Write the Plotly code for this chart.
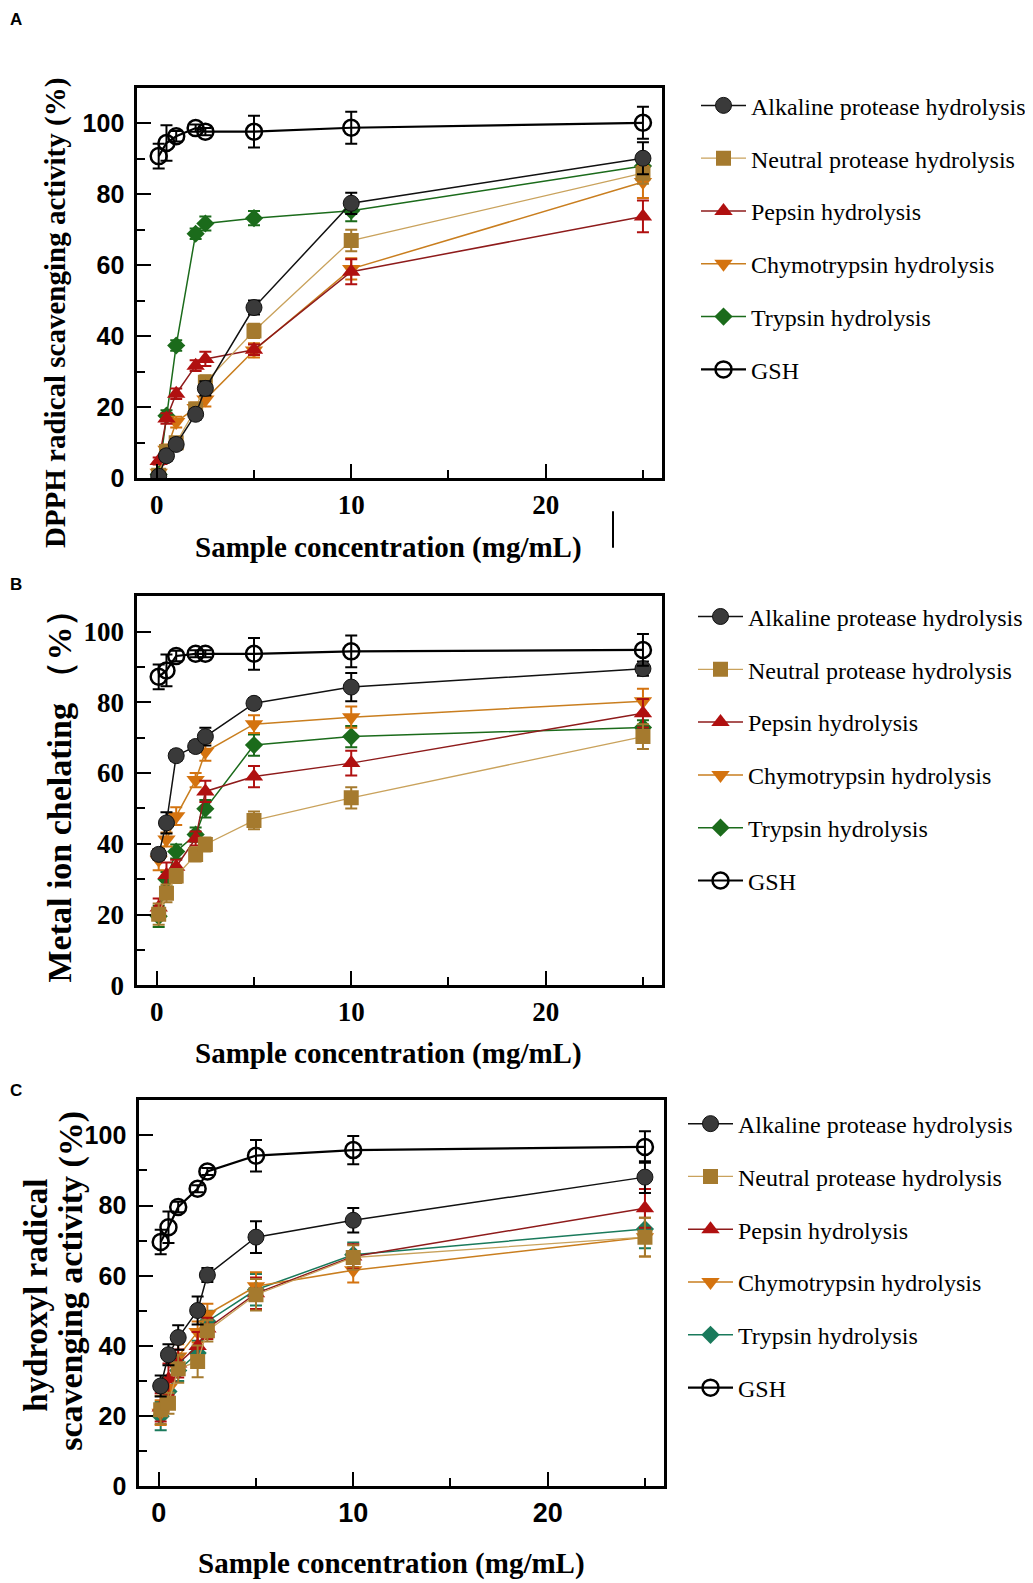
import plotly.graph_objects as go

# ---------------- data ----------------
conc = [0.1, 0.5, 1, 2, 2.5, 5, 10, 25]

series_names = ["Alkaline protease hydrolysis", "Neutral protease hydrolysis", "Pepsin hydrolysis",
                "Chymotrypsin hydrolysis", "Trypsin hydrolysis", "GSH"]

# Panel A: DPPH radical scavenging activity (%)
dpph_alk = [0.5, 6.3, 9.5, 18.0, 25.3, 48.1, 77.5, 90.2]
dpph_neu = [0.8, 7.5, 10.0, 19.5, 27.0, 41.5, 67.0, 86.0]
dpph_pep = [4.8, 16.8, 23.8, 31.7, 33.6, 36.2, 58.2, 73.8]
dpph_chy = [1.5, 8.0, 15.8, 19.8, 22.2, 36.0, 59.0, 83.5]
dpph_try = [1.0, 17.6, 37.4, 68.9, 71.8, 73.3, 75.4, 88.0]
dpph_gsh = [90.8, 94.5, 96.4, 98.7, 97.7, 97.7, 98.8, 100.2]
dpph_err_alk = [1, 1.5, 1.5, 1.5, 2, 2, 3, 4.5]
dpph_err_neu = [1, 1.5, 1.5, 1.5, 2, 2, 3, 3]
dpph_err_pep = [1, 1.5, 1.5, 1.5, 2, 1.5, 3.5, 4.5]
dpph_err_chy = [1, 1.5, 1.5, 1.5, 2, 2, 3, 4.5]
dpph_err_try = [1, 1.5, 1.5, 1.5, 2, 2, 3, 3]
dpph_err_gsh = [3.5, 5, 1.5, 1, 1, 4.5, 4.5, 4.5]

# Panel B: Metal ion chelating (%)
met_alk = [37.0, 45.9, 64.9, 67.5, 70.3, 79.7, 84.3, 89.5]
met_neu = [20.1, 26.0, 30.9, 37.0, 39.8, 46.6, 53.0, 70.3]
met_pep = [22.0, 31.2, 33.5, 41.5, 54.8, 59.0, 62.8, 76.9]
met_chy = [35.5, 41.2, 47.8, 58.0, 66.0, 73.8, 75.8, 80.3]
met_try = [19.5, 30.0, 37.8, 42.6, 49.9, 67.9, 70.3, 72.9]
met_gsh = [87.2, 89.0, 93.1, 93.7, 93.7, 93.7, 94.4, 94.8]
met_err_alk = [1.5, 3, 1.5, 1.5, 2.5, 1.5, 4, 2]
met_err_neu = [3, 2.5, 2, 2, 2, 2.5, 3, 3.5]
met_err_pep = [2.5, 3.5, 2, 2, 3, 3, 3.5, 4]
met_err_chy = [3, 2, 2.5, 2, 2.5, 2.5, 3, 3.5]
met_err_try = [3, 2, 2, 2, 2.5, 3, 3, 2]
met_err_gsh = [3.5, 4.5, 1.5, 1, 1, 4.5, 4.5, 4.5]

# Panel C: hydroxyl radical scavenging activity (%)
hyd_alk = [28.6, 37.5, 42.4, 50.1, 60.2, 71.0, 75.8, 88.1]
hyd_neu = [21.8, 23.7, 33.5, 35.6, 44.3, 54.6, 65.2, 71.0]
hyd_pep = [22.5, 30.5, 35.0, 40.0, 45.0, 55.0, 65.5, 79.2]
hyd_chy = [21.0, 28.0, 37.0, 44.0, 49.0, 57.0, 61.6, 71.0]
hyd_try = [20.0, 27.0, 33.0, 38.0, 47.0, 56.0, 66.0, 73.3]
hyd_gsh = [69.6, 73.8, 79.6, 84.8, 89.7, 94.2, 95.8, 96.7]
hyd_err_alk = [3, 3, 3.5, 4, 2, 4.5, 3.5, 4.5]
hyd_err_neu = [4, 3, 4, 4.5, 3, 4.5, 3.5, 5.5]
hyd_err_pep = [4, 4.5, 4, 4, 3, 4.5, 3.5, 5.5]
hyd_err_chy = [3.5, 3, 3.5, 3, 3, 4, 3.5, 5.5]
hyd_err_try = [4, 3.5, 3, 3.5, 3, 4.5, 3.5, 5.5]
hyd_err_gsh = [3.5, 4.5, 1.5, 1, 1, 4.5, 4, 4.5]

x_tick_vals = [0, 10, 20]
x_tick_text = ["0", "10", "20"]
y_tick_vals = [0, 20, 40, 60, 80, 100]
y_tick_text = ["0", "20", "40", "60", "80", "100"]

# ---------------- styles ----------------
W, H = 1033, 1583
SERIF = "Liberation Serif, Times New Roman, serif"
SANS = "Liberation Sans, Arial, sans-serif"


def px_x(p):
    return p / W


def px_y(p):
    return 1 - p / H


styles = [
    # (marker symbol, marker color, line color, size, marker line color, marker line width, line width)
    ("circle", "#3a3a3a", "#111111", 16, "#111111", 1, 1.5),
    ("square", "#a57a2e", "#c9a25c", 15, "#a57a2e", 0, 1.3),
    ("triangle-up", "#b01010", "#8e1b1b", 16, "#b01010", 0, 1.5),
    ("triangle-down", "#d4730f", "#c97e1f", 16, "#d4730f", 0, 1.5),
    ("diamond", "#1b6b1b", "#1b6b1b", 14, "#1b6b1b", 0, 1.5),
    ("circle-open", "#000000", "#000000", 16, "#000000", 2.5, 2.2),
]
draw_order = [4, 3, 2, 1, 0, 5]

panels = [
    dict(ys=[dpph_alk, dpph_neu, dpph_pep, dpph_chy, dpph_try, dpph_gsh],
         es=[dpph_err_alk, dpph_err_neu, dpph_err_pep, dpph_err_chy, dpph_err_try, dpph_err_gsh],
         dom_x=(129.3, 654.4), dom_y=(80.8, 474.6), xfont=SERIF, yfont=SANS, yfs=25,
         try_color="#1b6b1b", legend="legend", lx=688, ly=76),
    dict(ys=[met_alk, met_neu, met_pep, met_chy, met_try, met_gsh],
         es=[met_err_alk, met_err_neu, met_err_pep, met_err_chy, met_err_try, met_err_gsh],
         dom_x=(129.3, 654.4), dom_y=(593.8, 986.6), xfont=SERIF, yfont=SERIF, yfs=27,
         try_color="#1b6b1b", legend="legend2", lx=685, ly=592),
    dict(ys=[hyd_alk, hyd_neu, hyd_pep, hyd_chy, hyd_try, hyd_gsh],
         es=[hyd_err_alk, hyd_err_neu, hyd_err_pep, hyd_err_chy, hyd_err_try, hyd_err_gsh],
         dom_x=(131.3, 656.4), dom_y=(1102.7, 1492.5), xfont=SANS, yfont=SANS, yfs=25,
         try_color="#1a7a5c", legend="legend3", lx=675, ly=1104),
]

fig = go.Figure()
layout_updates = {}

for pi, p in enumerate(panels):
    suffix = "" if pi == 0 else str(pi + 1)
    xa = "x" + suffix
    ya = "y" + suffix
    for si in draw_order:
        sym, mcol, lcol, msize, mlc, mlw, lw = styles[si]
        if si == 4:
            mcol = lcol = mlc = p["try_color"]
        ecol = "#000000" if si in (0, 5) else mcol
        fig.add_trace(go.Scatter(
            x=conc, y=p["ys"][si], mode="lines+markers", name=series_names[si],
            xaxis=xa, yaxis=ya,
            line=dict(color=lcol, width=lw),
            marker=dict(symbol=sym, size=msize, color=mcol,
                        line=dict(color=mlc, width=mlw)),
            error_y=dict(type="data", array=p["es"][si], visible=True,
                         color=ecol, thickness=2, width=6),
            legend=p["legend"], legendgroup=f"{pi}-{si}", legendrank=si + 1,
        ))
    axis_common = dict(showline=True, linewidth=3, linecolor="black", mirror=True,
                       showgrid=False, zeroline=False, ticks="inside", tickwidth=2,
                       tickcolor="black")
    layout_updates["xaxis" + suffix] = dict(
        axis_common, domain=[px_x(p["dom_x"][0]), px_x(p["dom_x"][1])],
        anchor=ya, range=[-1, 26], tickvals=x_tick_vals, ticktext=x_tick_text, ticklen=14,
        tickfont=dict(family=p["xfont"], size=27, color="black", weight="bold"),
        minor=dict(tickvals=[5, 15, 25], ticklen=8, tickwidth=2, tickcolor="black", ticks="inside"),
    )
    layout_updates["yaxis" + suffix] = dict(
        axis_common, domain=[px_y(p["dom_y"][1]), px_y(p["dom_y"][0])],
        anchor=xa, range=[0, 110], tickvals=y_tick_vals, ticktext=y_tick_text, ticklen=14,
        ticklabelstandoff=5,
        tickfont=dict(family=p["yfont"], size=p["yfs"], color="black", weight="bold"),
        minor=dict(tickvals=[10, 30, 50, 70, 90], ticklen=8, tickwidth=2, tickcolor="black", ticks="inside"),
    )
    layout_updates[p["legend"]] = dict(
        x=px_x(p["lx"]), y=px_y(p["ly"]), xanchor="left", yanchor="top",
        font=dict(family=SERIF, size=24, color="black"), bgcolor="rgba(0,0,0,0)",
        tracegroupgap=18.6, itemwidth=45, borderwidth=0,
    )

fig.update_layout(**layout_updates)

# ---------------- text ----------------
ann = []


def add_text(text, x, y, size, family, angle=0, bold=True, xanchor="center", yanchor="middle"):
    ann.append(dict(text=(f"<b>{text}</b>" if bold else text), x=px_x(x), y=px_y(y),
                    xref="paper", yref="paper", showarrow=False, textangle=angle,
                    xanchor=xanchor, yanchor=yanchor,
                    font=dict(family=family, size=size, color="black")))


add_text("A", 0, 12, 17, SANS, xanchor="left")
add_text("B", 0, 582, 17, SANS, xanchor="left")
add_text("C", 0, 1093, 17, SANS, xanchor="left")

add_text("DPPH radical scavenging activity (%)", 47, 308, 29, SERIF, angle=-90)
add_text("Metal ion chelating （%）", 52, 787, 34, SERIF, angle=-90)
add_text("hydroxyl radical", 28, 1300, 33, SERIF, angle=-90)
add_text("scavenging activity (%)", 63, 1285, 34, SERIF, angle=-90)

add_text("Sample concentration (mg/mL)", 380, 545, 29, SERIF)
add_text("Sample concentration (mg/mL)", 380, 1055, 29, SERIF)
add_text("Sample concentration (mg/mL)", 383, 1570, 29, SERIF)

fig.update_layout(
    annotations=ann,
    shapes=[dict(type="line", xref="paper", yref="paper", x0=px_x(605), x1=px_x(605),
                 y0=px_y(508), y1=px_y(545), line=dict(color="black", width=2))],
    width=W, height=H, margin=dict(l=0, r=0, t=0, b=0),
    paper_bgcolor="white", plot_bgcolor="white", showlegend=True,
)

fig.write_html("out.html")
